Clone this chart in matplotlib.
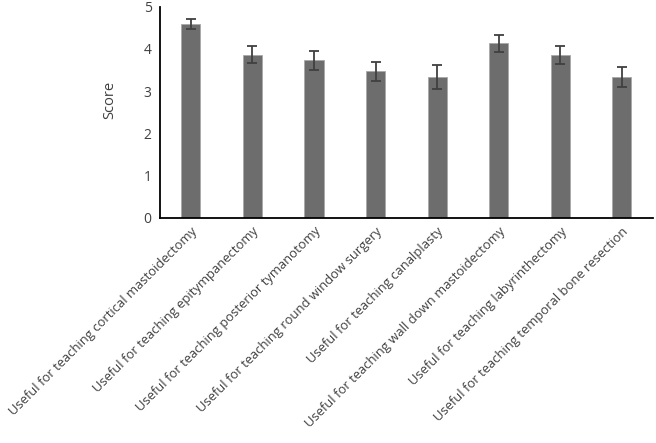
import matplotlib
matplotlib.use("Agg")
import matplotlib.pyplot as plt
import numpy as np

categories = [
    "Useful for teaching cortical mastoidectomy",
    "Useful for teaching epitympanectomy",
    "Useful for teaching posterior tymanotomy",
    "Useful for teaching round window surgery",
    "Useful for teaching canalplasty",
    "Useful for teaching wall down mastoidectomy",
    "Useful for teaching labyrinthectomy",
    "Useful for teaching temporal bone resection",
]
scores = [4.59, 3.86, 3.73, 3.47, 3.33, 4.13, 3.86, 3.33]
errors = [0.12, 0.20, 0.23, 0.22, 0.28, 0.20, 0.22, 0.24]

plt.rcParams['font.family'] = ['Open Sans', 'DejaVu Sans']

fig = plt.figure(figsize=(6.56, 4.43), dpi=100)
ax = fig.add_axes([0.244, 0.508, 0.751, 0.477])

x = np.arange(len(categories))
ax.bar(x, scores, width=0.31, color="#6d6d6d", edgecolor="#a8a8a8", linewidth=0.6,
       yerr=errors, capsize=3.5, error_kw=dict(ecolor="#404040", elinewidth=1.3, capthick=1.3))

ax.set_xlim(-0.5, len(categories) - 0.5)
ax.set_ylim(0, 5)
ax.set_yticks([0, 1, 2, 3, 4, 5])
ax.set_xticks(x)
ax.set_xticklabels(categories, rotation=45, ha="right", rotation_mode="anchor",
                   fontsize=9.4, color="#404040")
ax.tick_params(axis="y", length=0, pad=6, labelsize=10, labelcolor="#404040")
ax.tick_params(axis="x", length=0, pad=5)
ax.set_ylabel("Score", fontsize=10.5, color="#404040")
ax.yaxis.set_label_coords(-0.087, 0.56)

for s in ["top", "right"]:
    ax.spines[s].set_visible(False)
ax.spines["left"].set_linewidth(1.3)
ax.spines["bottom"].set_linewidth(1.3)

fig.savefig("out.png", dpi=100)
